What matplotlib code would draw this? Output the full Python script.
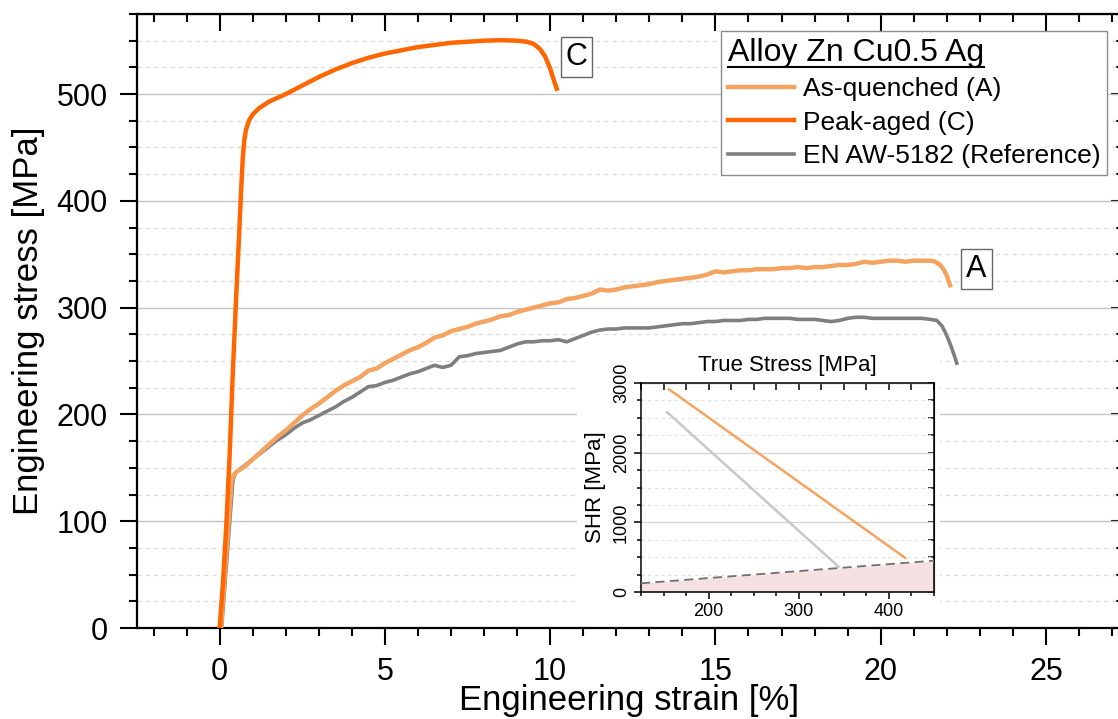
import matplotlib
matplotlib.use('Agg')
import matplotlib.pyplot as plt
from matplotlib.patches import Rectangle
from matplotlib.lines import Line2D
from matplotlib.ticker import MultipleLocator
import numpy as np

plt.rcParams['font.family'] = ['Liberation Sans', 'DejaVu Sans']

C_AQ, C_PA, C_REF = "#f4a460", "#ff6600", "#7f7f7f"

# peak-aged (C) tensile curve
pa_strain = [0.0, 0.1, 0.2, 0.3, 0.4, 0.5, 0.6, 0.65, 0.7, 0.75, 0.8, 0.9, 1.0, 1.2, 1.5,
             2.0, 2.5, 3.0, 3.5, 4.0, 4.5, 5.0, 5.5, 6.0, 6.5, 7.0, 7.5, 8.0, 8.5, 9.0,
             9.3, 9.5, 9.7, 9.85, 10.0, 10.1, 10.2]
pa_stress = [0, 42, 95, 160, 240, 310, 375, 410, 440, 458, 467, 476, 481, 487, 493,
             500, 508, 516, 523, 529, 534, 538, 541, 544, 546, 548, 549, 550, 550.5, 550,
             549, 547, 542, 535, 524, 514, 505]

# as-quenched (A) tensile curve
aq_strain = [0.04, 0.36, 0.42,
             0.5, 0.75, 1.0, 1.25, 1.5, 1.75, 2.0, 2.25, 2.5, 2.75, 3.0, 3.25, 3.5, 3.75,
             4.0, 4.25, 4.5, 4.75, 5.0, 5.25, 5.5, 5.75, 6.0, 6.25, 6.5, 6.75, 7.0, 7.25,
             7.5, 7.75, 8.0, 8.25, 8.5, 8.75, 9.0, 9.25, 9.5, 9.75, 10.0, 10.25, 10.5, 10.75,
             11.0, 11.25, 11.5, 11.75, 12.0, 12.25, 12.5, 12.75, 13.0, 13.25, 13.5, 13.75,
             14.0, 14.25, 14.5, 14.75, 15.0, 15.25, 15.5, 15.75, 16.0, 16.25, 16.5, 16.75,
             17.0, 17.25, 17.5, 17.75, 18.0, 18.25, 18.5, 18.75, 19.0, 19.25, 19.5, 19.75,
             20.0, 20.25, 20.5, 20.75, 21.0, 21.25, 21.5,
             21.65, 21.8, 21.9, 22.0, 22.05, 22.1]
aq_stress = [0, 138, 143,
             146, 151, 158, 165, 172, 179, 185, 192, 199, 205, 210, 216, 222, 227,
             231, 235, 241, 243, 248, 252, 256, 260, 263, 267, 272, 274, 278, 280,
             282, 285, 287, 289, 292, 293, 296, 298, 300, 302, 304, 305, 308, 309,
             311, 313, 317, 316, 317, 319, 320, 321, 322, 324, 325, 326,
             327, 328, 329, 331, 334, 333, 334, 335, 335, 336, 336, 336,
             337, 337, 338, 337, 338, 338, 339, 340, 340, 341, 343, 342,
             343, 344, 344, 343, 344, 344, 344,
             343, 340, 336, 330, 325, 321]

# EN AW-5182 reference curve
ref_strain = [0.06, 0.40, 0.45,
              0.5, 0.75, 1.0, 1.25, 1.5, 1.75, 2.0, 2.25, 2.5, 2.75, 3.0, 3.25, 3.5, 3.75,
              4.0, 4.25, 4.5, 4.75, 5.0, 5.25, 5.5, 5.75, 6.0, 6.25, 6.5, 6.75, 7.0, 7.25,
              7.5, 7.75, 8.0, 8.25, 8.5, 8.75, 9.0, 9.25, 9.5, 9.75, 10.0, 10.25, 10.5, 10.75,
              11.0, 11.25, 11.5, 11.75, 12.0, 12.25, 12.5, 12.75, 13.0, 13.25, 13.5, 13.75,
              14.0, 14.25, 14.5, 14.75, 15.0, 15.25, 15.5, 15.75, 16.0, 16.25, 16.5, 16.75,
              17.0, 17.25, 17.5, 17.75, 18.0, 18.25, 18.5, 18.75, 19.0, 19.25, 19.5, 19.75,
              20.0, 20.25, 20.5, 20.75, 21.0, 21.25, 21.5,
              21.7, 21.85, 21.95, 22.05, 22.15, 22.25, 22.3]
ref_stress = [0, 138, 143,
              146, 152, 158, 164, 170, 176, 181, 187, 192, 195, 199, 203, 207, 212,
              216, 221, 226, 227, 230, 232, 235, 238, 240, 243, 246, 244, 246, 254,
              255, 257, 258, 259, 260, 263, 266, 268, 268, 269, 269, 270, 268, 271,
              274, 277, 279, 280, 280, 281, 281, 281, 281, 282, 283, 284,
              285, 285, 286, 287, 287, 288, 288, 288, 289, 289, 290, 290,
              290, 290, 289, 289, 289, 288, 287, 288, 290, 291, 291, 290,
              290, 290, 290, 290, 290, 290, 289,
              288, 283, 277, 270, 262, 253, 248]

# inset: strain hardening rate vs true stress
shr_aq_x, shr_aq_y = [156, 418], [2910, 490]
shr_ref_x, shr_ref_y = [154, 344], [2580, 365]
consid_x = [125, 450]

W, H = 1118, 719
fig = plt.figure(figsize=(W / 100, H / 100), dpi=100)


def box(l, t, r, b):
    return [l / W, 1 - b / H, (r - l) / W, (b - t) / H]


ax = fig.add_axes(box(137, 14, 1122, 628))
ax.plot(ref_strain, ref_stress, color=C_REF, lw=2.6, label="EN AW-5182 (Reference)", zorder=3)
ax.plot(aq_strain, aq_stress, color=C_AQ, lw=3.2, label="As-quenched (A)", zorder=4)
ax.plot(pa_strain, pa_stress, color=C_PA, lw=3.2, label="Peak-aged (C)", zorder=5)

ax.set_xlim(-2.5, 27.3)
ax.set_ylim(0, 575)
ax.xaxis.set_major_locator(MultipleLocator(5))
ax.xaxis.set_minor_locator(MultipleLocator(1))
ax.yaxis.set_major_locator(MultipleLocator(100))
ax.yaxis.set_minor_locator(MultipleLocator(25))
ax.set_axisbelow(True)
ax.grid(axis='y', which='major', color='#c4c4c4', lw=1.0)
ax.grid(axis='y', which='minor', color='#dcdcdc', lw=1.0, ls=(0, (3, 3)))
ax.tick_params(which='major', direction='out', length=12, width=1.5, labelsize=22, pad=9)
ax.tick_params(which='minor', direction='out', length=6, width=1.5)
for s in ax.spines.values():
    s.set_linewidth(1.6)

top = ax.secondary_xaxis('top')
top.xaxis.set_major_locator(MultipleLocator(5))
top.xaxis.set_minor_locator(MultipleLocator(1))
top.tick_params(which='major', direction='in', length=12, width=1.5, labeltop=False)
top.tick_params(which='minor', direction='in', length=6, width=1.5)
right = ax.secondary_yaxis('right')
right.yaxis.set_major_locator(MultipleLocator(100))
right.yaxis.set_minor_locator(MultipleLocator(25))
right.tick_params(which='major', direction='in', length=8, width=1.5, labelright=False)
right.tick_params(which='minor', direction='in', length=4, width=1.5)

ax.set_xlabel("Engineering strain [%]", fontsize=25, labelpad=-2)
ax.set_ylabel("Engineering stress [MPa]", fontsize=25, labelpad=8)

lbl = dict(fontsize=22, ha='center', va='center', zorder=6,
           bbox=dict(boxstyle='square,pad=0.16', fc='white', ec='#666666', lw=1))
ax.text(10.8, 535, "C", **lbl)
ax.text(22.9, 336, "A", **lbl)

h, l = ax.get_legend_handles_labels()
order = [1, 2, 0]
leg = ax.legend([h[i] for i in order], [l[i] for i in order],
                loc='upper right', bbox_to_anchor=(1107 / W, 1 - 31 / H),
                bbox_transform=fig.transFigure, title="Alloy Zn Cu0.5 Ag",
                title_fontsize=23, fontsize=19, alignment='left', fancybox=False,
                edgecolor='#8c8c8c', framealpha=1, handlelength=2.5, handletextpad=0.35,
                labelspacing=0.36, borderpad=0.25, borderaxespad=0)
leg.get_frame().set_linewidth(1.0)
leg.set_zorder(7)

# white backing behind the inset and its labels
fig.add_artist(Rectangle((577 / W, 1 - 622 / H), (940 - 577) / W, (622 - 340) / H,
                         transform=fig.transFigure, fc='white', ec='none', zorder=2))

axin = fig.add_axes(box(641, 383, 934, 592), zorder=3)
xs = np.array(consid_x)
axin.fill_between(xs, 0, xs, color='#f5e1e1', lw=0, zorder=1)
axin.plot(xs, xs, color='#707070', lw=1.3, ls=(0, (5, 3)), zorder=3)
axin.plot(shr_ref_x, shr_ref_y, color='#c8c8c8', lw=1.8, zorder=2)
axin.plot(shr_aq_x, shr_aq_y, color=C_AQ, lw=1.8, zorder=2)
axin.set_xlim(125, 450)
axin.set_ylim(0, 3000)
axin.xaxis.set_major_locator(MultipleLocator(100))
axin.xaxis.set_minor_locator(MultipleLocator(25))
axin.yaxis.set_major_locator(MultipleLocator(1000))
axin.yaxis.set_minor_locator(MultipleLocator(250))
axin.set_axisbelow(True)
axin.grid(axis='y', which='major', color='#d4d4d4', lw=0.9)
axin.grid(axis='y', which='minor', color='#e2e2e2', lw=0.8, ls=(0, (3, 3)))
axin.tick_params(which='major', direction='out', length=5, width=1.1, labelsize=13, pad=3)
axin.tick_params(which='minor', direction='out', length=3, width=1.1)
axin.tick_params(axis='y', labelrotation=90)
for t in axin.get_yticklabels():
    t.set_va('center')
for s in axin.spines.values():
    s.set_linewidth(1.1)
itop = axin.secondary_xaxis('top')
itop.xaxis.set_major_locator(MultipleLocator(100))
itop.xaxis.set_minor_locator(MultipleLocator(25))
itop.tick_params(which='both', direction='in', length=5, width=1.1, labeltop=False)
iright = axin.secondary_yaxis('right')
iright.yaxis.set_major_locator(MultipleLocator(1000))
iright.yaxis.set_minor_locator(MultipleLocator(250))
iright.tick_params(which='both', direction='in', length=4, width=1.1, labelright=False)
axin.set_xlabel("True Stress [MPa]", fontsize=16, labelpad=9)
axin.xaxis.set_label_position('top')
axin.set_ylabel("SHR [MPa]", fontsize=16, labelpad=5)

# underline the legend title
fig.canvas.draw()
tb = leg.get_title().get_window_extent()
uy = (tb.y0 + 1) / H
fig.add_artist(Line2D([tb.x0 / W, tb.x1 / W], [uy, uy], transform=fig.transFigure,
                      color='black', lw=1.5, zorder=8))

fig.savefig("out.png", dpi=100)
